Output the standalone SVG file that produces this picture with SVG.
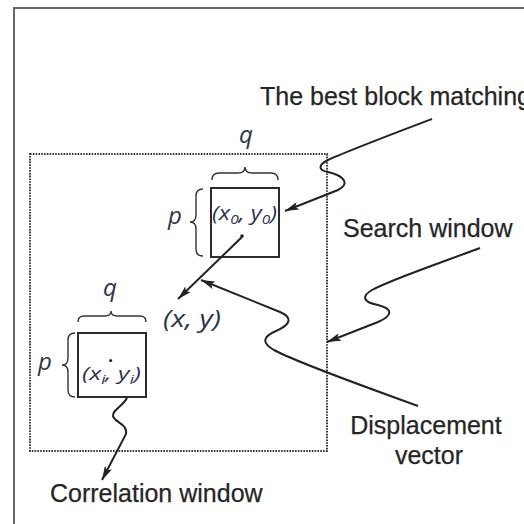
<svg xmlns="http://www.w3.org/2000/svg" width="524" height="524" viewBox="0 0 524 524">
  <style>
    .lbl { font-family: "Liberation Sans", Arial, sans-serif; font-size: 25px; fill: #262626; stroke: #262626; stroke-width: 0.25; }
    .it { font-family: "Open Sans", "Liberation Sans", sans-serif; font-style: italic; fill: #2e3450; }
    .blk { fill: none; stroke: #222; stroke-width: 1.9; }
    .brace { fill: none; stroke: #333; stroke-width: 1.4; }
    .con { fill: none; stroke: #222; stroke-width: 2; }
  </style>
  <defs>
    <marker id="ah" viewBox="0 0 14 8" refX="14" refY="4" markerWidth="14" markerHeight="8" orient="auto" markerUnits="userSpaceOnUse">
      <path d="M0,0 L14,4 L0,8 L3,4 z" fill="#222"/>
    </marker>
  </defs>
  <rect width="524" height="524" fill="#fff"/>
  <rect id="frame" x="14" y="8" width="540" height="540" fill="none" stroke="#666" stroke-width="2"/>

  <g id="search-window-box">
    <rect x="30" y="154" width="297" height="297" fill="none" stroke="#3a3a3a" stroke-width="2" stroke-dasharray="1.6 1.2"/>
  </g>

  <g id="best-block">
    <rect class="blk" x="211" y="188" width="68" height="69"/>
    <circle cx="242" cy="236" r="1.8" fill="#222"/>
    <text class="it" x="212" y="220" font-size="20" textLength="65" lengthAdjust="spacingAndGlyphs">(x<tspan font-size="13" dy="4">0</tspan><tspan dy="-4">, y</tspan><tspan font-size="13" dy="4">0</tspan><tspan dy="-4">)</tspan></text>
    <path class="brace" d="M212,180 Q212,173 219,173 L238,173 Q245,173 245,167 Q245,173 252,173 L271,173 Q278,173 278,180"/>
    <text class="it" x="246" y="143" font-size="24" text-anchor="middle">q</text>
    <path class="brace" d="M203,189 Q196,189 196,196 L196,215 Q196,222 190,222 Q196,222 196,229 L196,249 Q196,256 203,256"/>
    <text class="it" x="168" y="224" font-size="24">p</text>
  </g>

  <g id="correlation-block">
    <rect class="blk" x="78" y="333" width="68" height="64"/>
    <circle cx="110.7" cy="360.5" r="1.5" fill="#222"/>
    <text class="it" x="82" y="380" font-size="18" textLength="59" lengthAdjust="spacingAndGlyphs">(x<tspan font-size="12" dy="4">i</tspan><tspan dy="-4">, y</tspan><tspan font-size="12" dy="4">i</tspan><tspan dy="-4">)</tspan></text>
    <path class="brace" d="M78,322 Q78,316 84,316 L105,316 Q111,316 111,311 Q111,316 117,316 L140,316 Q146,316 146,322"/>
    <text class="it" x="110" y="296" font-size="24" text-anchor="middle">q</text>
    <path class="brace" d="M75,333 Q68,333 68,340 L68,358 Q68,365 62,365 Q68,365 68,372 L68,390 Q68,397 75,397"/>
    <text class="it" x="38" y="370" font-size="24">p</text>
  </g>

  <g id="point-xy">
    <text class="it" x="163" y="327" font-size="24" textLength="58" lengthAdjust="spacingAndGlyphs">(x, y)</text>
  </g>

  <g id="label-best"><text class="lbl" x="260" y="105">The best block matching</text></g>
  <g id="label-search"><text class="lbl" x="343" y="237">Search window</text></g>
  <g id="label-displacement">
    <text class="lbl" x="426" y="434" text-anchor="middle">Displacement</text>
    <text class="lbl" x="429" y="464" text-anchor="middle">vector</text>
  </g>
  <g id="label-correlation"><text class="lbl" x="50" y="502">Correlation window</text></g>

  <g id="connectors">
    <path class="con" marker-end="url(#ah)" d="M432,119 C395,133 350,150 328,160 C318,165 318,170 328,172 C345,176 350,184 338,190 L285,211"/>
    <path class="con" marker-end="url(#ah)" d="M242,237 L178,299"/>
    <path class="con" marker-end="url(#ah)" d="M418,406 C380,392 300,364 274,350 C262,343 262,337 276,331 C292,324 292,317 280,312 L201,280"/>
    <path class="con" marker-end="url(#ah)" d="M480,248 C440,263 390,280 372,290 C362,296 362,302 378,305 C394,309 392,316 378,322 L327,342"/>
    <path class="con" marker-end="url(#ah)" d="M127,398 C123,406 112,410 113,416 C114,422 128,424 126,434 L102,480"/>
  </g>
</svg>
